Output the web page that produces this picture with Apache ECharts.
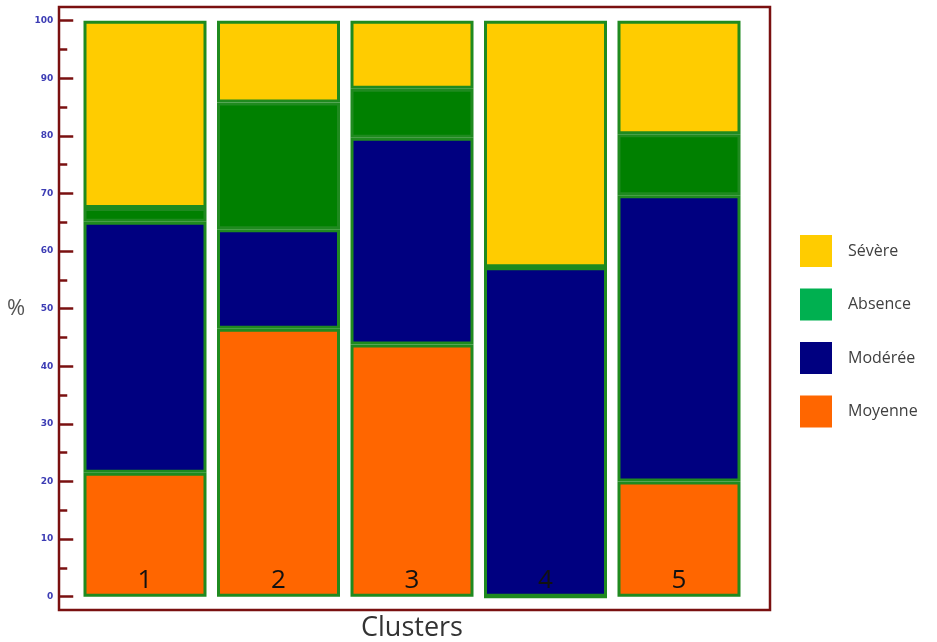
<!DOCTYPE html>
<html><head><meta charset="utf-8">
<script src="https://cdn.jsdelivr.net/npm/echarts@6/dist/echarts.min.js"></script>
<style>html,body{margin:0;padding:0;background:#fff}#c{width:937px;height:642px}</style>
</head><body><div id="c"></div>
<script>
const categories = ['1','2','3','4','5'];
const moyenne = [21.5, 46.5, 43.8, 0, 20.0];
const moderee = [43.6, 17.3, 35.9, 57.2, 49.7];
const absence = [2.4, 22.0, 8.5, 0, 10.6];
const severe  = [32.5, 14.2, 11.8, 42.8, 19.7];
const yTicks = [0,10,20,30,40,50,60,70,80,90,100];

const chart = echarts.init(document.getElementById('c'));
const border = '#1f8a1f';
function ser(name, data, color){
  return {name, type:'bar', stack:'s', data, barWidth:123,
    itemStyle:{color, borderColor:border, borderWidth:3}};
}
chart.setOption({
  animation:false,
  grid:{left:78.25, width:667.5, top:20.7, height:576, containLabel:false, outerBoundsMode:'none'},
  legend:{orient:'vertical', left:795, top:230, itemWidth:32, itemHeight:32, itemGap:21.5,
    icon:'rect', textStyle:{fontSize:16, color:'#404040', fontFamily:'Open Sans', padding:[0,0,0,11]},
    itemStyle:{borderWidth:0},
    data:[{name:'Sévère'},{name:'Absence', itemStyle:{color:'#00B050', borderWidth:0}},{name:'Modérée'},{name:'Moyenne'}]},
  graphic:[{type:'rect', shape:{x:59, y:7, width:711, height:603}, style:{fill:'none', stroke:'#7a1010', lineWidth:2.5}, z:0}],
  xAxis:{type:'category', data:categories, z:10,
    axisLine:{show:false}, axisTick:{show:false},
    axisLabel:{inside:true, margin:3, fontSize:26, color:'#111', fontFamily:'Open Sans', verticalAlign:'bottom'},
    name:'Clusters', nameLocation:'middle', nameGap:18,
    nameTextStyle:{fontSize:27, color:'#333', fontFamily:'Open Sans'}},
  yAxis:{type:'value', min:0, max:100, interval:10, offset:19,
    axisLine:{show:false},
    axisTick:{show:true, inside:true, length:14, lineStyle:{color:'#7a1010', width:2.5}},
    minorTick:{show:true, splitNumber:2, length:8, lineStyle:{color:'#7a1010', width:2.5}},
    splitLine:{show:false},
    axisLabel:{margin:6, fontSize:9, fontWeight:'bold', color:'#3c3cb4', fontFamily:'DejaVu Sans'},
    name:'%', nameLocation:'middle', nameGap:34, nameRotate:0,
    nameTextStyle:{fontSize:22, color:'#555', fontFamily:'Open Sans'}},
  series:[
    ser('Moyenne', moyenne, '#FF6600'),
    ser('Modérée', moderee, '#000080'),
    ser('Absence', absence, '#008000'),
    ser('Sévère', severe, '#FFCC00')
  ]
});
</script></body></html>
